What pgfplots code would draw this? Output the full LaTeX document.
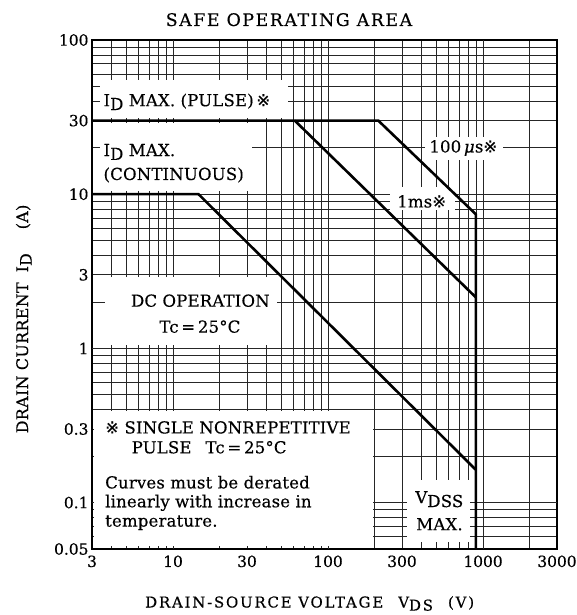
\documentclass[border=0pt]{standalone}
\usepackage{pgfplots}
\pgfplotsset{compat=1.18}
\usepackage{graphicx}
\usepackage{fontspec}
\setmainfont{DejaVu Serif}[FakeBold=0.35]
\newfontfamily\symfont{DejaVu Sans}[FakeBold=0.35]
\newcommand{\kome}{{\symfont ※}}
\newcommand{\sub}[1]{\raisebox{-0.45ex}{#1}}
\newcommand{\bt}{\fontsize{16.6}{19}\selectfont\addfontfeature{LetterSpace=1}}
\begin{document}
\begin{tikzpicture}
\useasboundingbox (0,0) rectangle (577bp,615bp);
\begin{axis}[
  at={(92bp,66bp)}, anchor=south west,
  scale only axis, width=465bp, height=509bp,
  xmode=log, ymode=log,
  xmin=3, xmax=3000, ymin=0.05, ymax=100,
  xtick={3,10,30,100,300,1000,3000},
  xticklabels={3,10,30,100,300,1000,3000},
  ytick={0.05,0.1,0.3,1,3,10,30,100},
  yticklabels={0.05,0.1,0.3,1,3,10,30,100},
  minor xtick={4,5,6,7,8,9,20,40,50,60,70,80,90,200,400,500,600,700,800,900,2000},
  minor ytick={0.06,0.07,0.08,0.09,0.2,0.4,0.5,0.6,0.7,0.8,0.9,2,4,5,6,7,8,9,20,40,50,60,70,80,90},
  grid=both,
  major grid style={black!85, line width=0.8pt},
  minor grid style={black!85, line width=0.8pt},
  extra x ticks={10,100,1000}, extra x tick labels={},
  extra x tick style={grid style={black, line width=1.3pt}},
  extra y ticks={0.1,1,10}, extra y tick labels={},
  extra y tick style={grid style={black, line width=1.3pt}},
  major tick length=0pt, minor tick length=0pt,
  axis line style={line width=2pt},
  /pgf/number format/assume math mode=true,
  tick label style={font=\fontsize{15.5}{17}\selectfont},
  xticklabel style={yshift=-3bp},
]
% white label boxes
\fill[white] (rel axis cs:0.017,0.847) rectangle (rel axis cs:0.4215,0.921);
\fill[white] (rel axis cs:0.017,0.703) rectangle (rel axis cs:0.344,0.837);
\fill[white] (rel axis cs:0.716,0.764) rectangle (rel axis cs:0.884,0.809);
\fill[white] (rel axis cs:0.641,0.666) rectangle (rel axis cs:0.781,0.711);
\fill[white] (rel axis cs:0.028,0.401) rectangle (rel axis cs:0.398,0.534);
\fill[white] (rel axis cs:0.005,0.005) rectangle (rel axis cs:0.604,0.271);
\fill[white] (rel axis cs:0.677,0.014) rectangle (rel axis cs:0.813,0.136);
% curves
\addplot[black, line width=2.6pt] coordinates {(3,30) (211,30) (900,7.4) (900,0.05)};
\addplot[black, line width=2.6pt] coordinates {(61,30) (900,2.14)};
\addplot[black, line width=2.6pt] coordinates {(3,10) (14.6,10) (900,0.163)};
% labels
\node[anchor=base west, inner sep=0] at (rel axis cs:0.0245,0.870) {\bt I\sub{D} MAX. (PULSE)\,\kome};
\node[anchor=base west, inner sep=0] at (rel axis cs:0.0245,0.772) {\bt I\sub{D} MAX.};
\node[anchor=base west, inner sep=0] at (rel axis cs:0.0245,0.725) {\bt (CONTINUOUS)};
\node[anchor=base west, inner sep=0] at (rel axis cs:0.725,0.779) {\bt 100\,\textit{μ}s\kome};
\node[anchor=base west, inner sep=0] at (rel axis cs:0.656,0.671) {\bt 1ms\kome};
\node[anchor=base, inner sep=0] at (rel axis cs:0.233,0.476) {\bt DC OPERATION};
\node[anchor=base, inner sep=0] at (rel axis cs:0.232,0.425) {\bt Tc\,=\,25°C};
\node[anchor=base west, inner sep=0] at (rel axis cs:0.028,0.227) {\bt \kome\ SINGLE NONREPETITIVE};
\node[anchor=base west, inner sep=0] at (rel axis cs:0.085,0.188) {\bt PULSE\hspace{14bp}Tc\,=\,25°C};
\node[anchor=base west, inner sep=0] at (rel axis cs:0.028,0.119) {\bt Curves must be derated};
\node[anchor=base west, inner sep=0] at (rel axis cs:0.028,0.082) {\bt linearly with increase in};
\node[anchor=base west, inner sep=0] at (rel axis cs:0.028,0.044) {\bt temperature.};
\node[anchor=base west, inner sep=0] at (rel axis cs:0.695,0.090) {\bt V\sub{DSS}};
\node[anchor=base west, inner sep=0] at (rel axis cs:0.697,0.037) {\bt MAX.};
\end{axis}
\node[anchor=base, inner sep=0] at (289bp,589bp) {\fontsize{17.4}{20}\selectfont\addfontfeature{LetterSpace=9}SAFE OPERATING AREA};
\node[anchor=base west, inner sep=0] at (145bp,7.5bp) {\fontsize{15}{18}\selectfont\addfontfeature{LetterSpace=12}DRAIN-SOURCE VOLTAGE\hspace{15bp}V\raisebox{-0.4ex}{DS}\hspace{15bp}(V)};
\node[anchor=base, rotate=90, inner sep=0] at (28bp,296bp) {\fontsize{16}{18}\selectfont\addfontfeature{LetterSpace=2}DRAIN CURRENT\hspace{10bp}I\sub{D}\hspace{24bp}(A)};
\end{tikzpicture}
\end{document}
